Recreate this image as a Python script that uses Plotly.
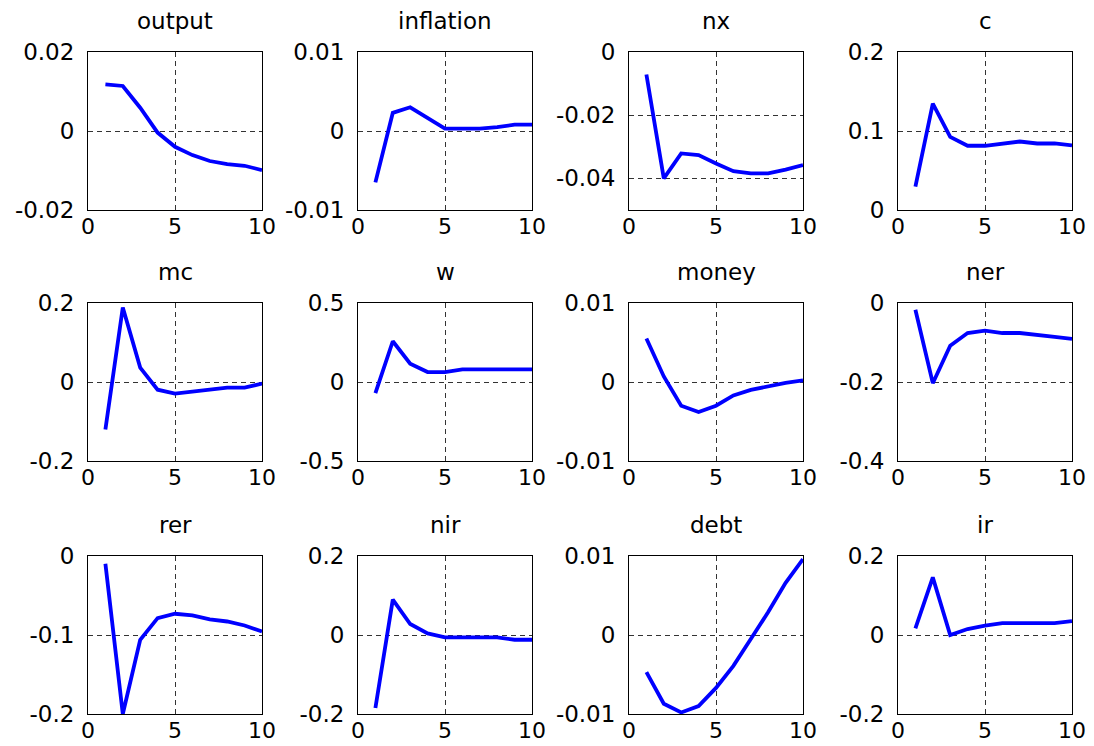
import plotly.graph_objects as go

periods = [1, 2, 3, 4, 5, 6, 7, 8, 9, 10]

titles = ["output", "inflation", "nx", "c",
          "mc", "w", "money", "ner",
          "rer", "nir", "debt", "ir"]

output = [0.0118, 0.0114, 0.0059, -0.0004, -0.0040, -0.0061, -0.0076, -0.0084, -0.0088, -0.0099]
inflation = [-0.0065, 0.0023, 0.0030, 0.0017, 0.0003, 0.0003, 0.0003, 0.0005, 0.0008, 0.0008]
nx = [-0.0071, -0.0400, -0.0321, -0.0326, -0.0353, -0.0377, -0.0384, -0.0384, -0.0372, -0.0358]
c = [0.0295, 0.1347, 0.0926, 0.0813, 0.0813, 0.0834, 0.0867, 0.0842, 0.0842, 0.0817]
mc = [-0.120, 0.1886, 0.0364, -0.0195, -0.0296, -0.0254, -0.0195, -0.0144, -0.0144, -0.0040]
w = [-0.070, 0.258, 0.116, 0.063, 0.063, 0.080, 0.080, 0.080, 0.080, 0.080]
money = [0.0055, 0.0007, -0.0030, -0.0038, -0.0030, -0.0017, -0.0010, -0.0005, -0.0001, 0.0002]
ner = [-0.017, -0.203, -0.108, -0.076, -0.070, -0.076, -0.076, -0.080, -0.086, -0.091]
rer = [-0.0097, -0.200, -0.106, -0.0786, -0.0731, -0.0752, -0.0803, -0.0829, -0.0880, -0.0955]
nir = [-0.185, 0.0896, 0.0279, 0.0042, -0.0059, -0.0060, -0.0060, -0.0060, -0.0120, -0.0120]
debt = [-0.0047, -0.0087, -0.0098, -0.0090, -0.0067, -0.0039, -0.0005, 0.0029, 0.0066, 0.0096]
ir = [0.0169, 0.146, 0.000, 0.015, 0.024, 0.030, 0.030, 0.030, 0.030, 0.035]

series = [output, inflation, nx, c, mc, w, money, ner, rer, nir, debt, ir]

y_ranges = [[-0.02, 0.02], [-0.01, 0.01], [-0.05, 0.0], [0.0, 0.2],
            [-0.2, 0.2], [-0.5, 0.5], [-0.01, 0.01], [-0.4, 0.0],
            [-0.2, 0.0], [-0.2, 0.2], [-0.01, 0.01], [-0.2, 0.2]]
y_ticks = [[-0.02, 0, 0.02], [-0.01, 0, 0.01], [-0.04, -0.02, 0], [0, 0.1, 0.2],
           [-0.2, 0, 0.2], [-0.5, 0, 0.5], [-0.01, 0, 0.01], [-0.4, -0.2, 0],
           [-0.2, -0.1, 0], [-0.2, 0, 0.2], [-0.01, 0, 0.01], [-0.2, 0, 0.2]]
y_ticklabels = [["-0.02", "0", "0.02"], ["-0.01", "0", "0.01"], ["-0.04", "-0.02", "0"], ["0", "0.1", "0.2"],
                ["-0.2", "0", "0.2"], ["-0.5", "0", "0.5"], ["-0.01", "0", "0.01"], ["-0.4", "-0.2", "0"],
                ["-0.2", "-0.1", "0"], ["-0.2", "0", "0.2"], ["-0.01", "0", "0.01"], ["-0.2", "0", "0.2"]]
x_ticks = [0, 5, 10]
x_ticklabels = ["0", "5", "10"]

# page offset of the html body (8px default margin)
OFF = 8
W, H = 1094 - OFF, 746 - OFF
col_left = [88, 358, 629, 898]
col_w = 174
row_top = [52, 303, 556]
row_h = 158

FONT = "DejaVu Sans"
fig = go.Figure()
layout = dict(
    template="none",
    width=W, height=H,
    margin=dict(l=0, r=0, t=0, b=0, pad=0, autoexpand=False),
    paper_bgcolor="white", plot_bgcolor="white",
    showlegend=False,
    font=dict(family=FONT, size=23, color="black"),
    annotations=[],
)

for i, (name, ys) in enumerate(zip(titles, series)):
    r, cidx = divmod(i, 4)
    k = i + 1
    xa = "x" if k == 1 else f"x{k}"
    ya = "y" if k == 1 else f"y{k}"
    fig.add_trace(go.Scatter(x=periods, y=ys, mode="lines", xaxis=xa, yaxis=ya,
                             line=dict(color="rgb(0,0,255)", width=3.8),
                             hoverinfo="skip"))
    x0 = (col_left[cidx] - OFF) / W
    x1 = (col_left[cidx] + col_w - OFF) / W
    y1 = 1 - (row_top[r] - OFF) / H
    y0 = 1 - (row_top[r] + row_h - OFF) / H
    axis_common = dict(showline=True, linecolor="black", linewidth=1, mirror=True,
                       showgrid=True, gridcolor="#333333", gridwidth=1, griddash="5px,4px",
                       zeroline=False, ticks="", automargin=False)
    layout["xaxis" if k == 1 else f"xaxis{k}"] = dict(
        domain=[x0, x1], range=[0, 10], anchor=ya,
        tickmode="array", tickvals=x_ticks, ticktext=x_ticklabels,
        ticklabelstandoff=-3, tickfont=dict(family=FONT, size=22, color="black"),
        **axis_common)
    layout["yaxis" if k == 1 else f"yaxis{k}"] = dict(
        domain=[y0, y1], range=y_ranges[i], anchor=xa,
        tickmode="array", tickvals=y_ticks[i], ticktext=y_ticklabels[i],
        ticklabelstandoff=8, tickfont=dict(family=FONT, size=23, color="black"),
        **axis_common)
    layout["annotations"].append(dict(
        text=name, xref="paper", yref="paper",
        x=(x0 + x1) / 2, y=1 - (row_top[r] - 31 - OFF) / H,
        xanchor="center", yanchor="middle", showarrow=False,
        font=dict(family=FONT, size=23, color="black")))

fig.update_layout(**layout)
fig.write_html("out.html")
